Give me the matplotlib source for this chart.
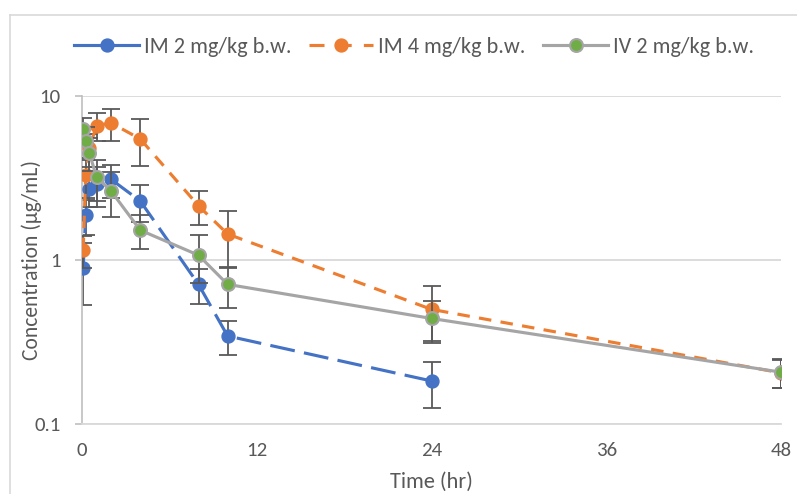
import matplotlib
matplotlib.use("Agg")
import matplotlib.pyplot as plt
from matplotlib.lines import Line2D
import matplotlib.font_manager as fm

names = {f.name for f in fm.fontManager.ttflist}
fam = [n for n in ["Carlito", "Liberation Sans Narrow", "Lato", "DejaVu Sans"] if n in names]
plt.rcParams['font.family'] = fam

# ---- data ----
t_im2 = [0.083, 0.25, 0.5, 1, 2, 4, 8, 10, 24]
c_im2 = [0.90, 1.88, 2.70, 2.90, 3.10, 2.29, 0.71, 0.344, 0.183]
e_im2 = [0.37, 0.45, 0.60, 0.80, 0.70, 0.58, 0.17, 0.08, 0.057]

t_im4 = [0.083, 0.25, 0.5, 1, 2, 4, 8, 10, 24, 48]
c_im4 = [1.15, 3.30, 4.80, 6.60, 6.85, 5.47, 2.14, 1.44, 0.50, 0.205]
e_im4 = [0.25, 0.90, 1.10, 1.30, 1.50, 1.75, 0.50, 0.55, 0.19, 0.04]

t_iv2 = [0.083, 0.25, 0.5, 1, 2, 4, 8, 10, 24, 48]
c_iv2 = [6.27, 5.30, 4.51, 3.20, 2.63, 1.52, 1.07, 0.71, 0.44, 0.207]
e_iv2 = [1.10, 1.20, 1.00, 0.90, 0.80, 0.35, 0.35, 0.20, 0.12, 0.042]

labels = ["IM 2 mg/kg b.w.", "IM 4 mg/kg b.w.", "IV 2 mg/kg b.w."]
xticks = [0, 12, 24, 36, 48]
yticks = [0.1, 1, 10]
ytick_labels = ["0.1", "1", "10"]

blue, orange, gray, green = "#4472C4", "#ED7D31", "#A5A5A5", "#70AD47"
ecol = "#595959"
txt = "#595959"

fig = plt.figure(figsize=(7.97, 4.94), dpi=100)
ax = fig.add_axes([82/797, 1-424/494, (781-82)/797, (424-96)/494])

# outer chart border
fig.add_artist(Line2D([10/797, 1.0], [1-15/494, 1-15/494], transform=fig.transFigure, color="#d9d9d9", lw=1.2))
fig.add_artist(Line2D([10/797, 10/797], [0, 1-15/494], transform=fig.transFigure, color="#d9d9d9", lw=1.2))

lw = 2.25
ms = 9.3
ekw = dict(ecolor=ecol, elinewidth=1.3, capsize=6.5, capthick=1.3)

ax.errorbar(t_im2, c_im2, yerr=e_im2, fmt='none', zorder=2, **ekw)
ax.plot(t_im2, c_im2, color=blue, lw=lw, dashes=(8, 3), marker='o', ms=ms,
        mfc=blue, mec=blue, zorder=3)
ax.errorbar(t_im4, c_im4, yerr=e_im4, fmt='none', zorder=4, **ekw)
ax.plot(t_im4, c_im4, color=orange, lw=lw, dashes=(4, 3), marker='o', ms=ms,
        mfc=orange, mec=orange, zorder=5)
ax.errorbar(t_iv2, c_iv2, yerr=e_iv2, fmt='none', zorder=6, **ekw)
ax.plot(t_iv2, c_iv2, color=gray, lw=lw, marker='o', ms=ms,
        mfc=green, mec=gray, mew=1.5, zorder=7)

ax.set_yscale('log')
ax.set_ylim(0.1, 10)
ax.set_xlim(0, 48)
ax.set_yticks(yticks)
ax.set_yticklabels(ytick_labels)
ax.yaxis.set_minor_locator(matplotlib.ticker.NullLocator())
ax.set_xticks(xticks)
ax.set_xticklabels([str(x) for x in xticks])

for s in ['top', 'right']:
    ax.spines[s].set_visible(False)
ax.spines['left'].set_color("#bfbfbf")
ax.spines['bottom'].set_color("#d9d9d9")
ax.spines['left'].set_linewidth(1.2)
ax.spines['bottom'].set_linewidth(1.3)
ax.grid(axis='y', color="#d9d9d9", lw=1.3, zorder=0)
ax.set_axisbelow(True)

ax.tick_params(axis='x', length=0, pad=13, labelsize=15, labelcolor=txt)
ax.tick_params(axis='y', length=5, width=1.2, color="#bfbfbf", pad=10.5, labelsize=15, labelcolor=txt)

ax.set_xlabel("Time (hr)", fontsize=16, color=txt, va='center')
ax.set_ylabel("Concentration (µg/mL)", fontsize=15.5, color=txt, va='center')
ax.xaxis.set_label_coords(0.5, (424-482)/328)
ax.yaxis.set_label_coords((32-82)/699, 0.5)

handles = [
    Line2D([], [], color=blue, lw=lw, marker='o', ms=ms, mfc=blue, mec=blue),
    Line2D([], [], color=orange, lw=lw, dashes=(4.8, 3.9), marker='o', ms=ms, mfc=orange, mec=orange),
    Line2D([], [], color=gray, lw=lw, marker='o', ms=ms, mfc=green, mec=gray, mew=1.5),
]
fig.legend(handles, labels, loc='center', bbox_to_anchor=(414/797, 1-47/494), ncol=3,
           frameon=False, fontsize=16, handlelength=2.9, handletextpad=0.22,
           columnspacing=0.8, labelcolor=txt, borderpad=0.2)

fig.savefig("out.png", dpi=100)
